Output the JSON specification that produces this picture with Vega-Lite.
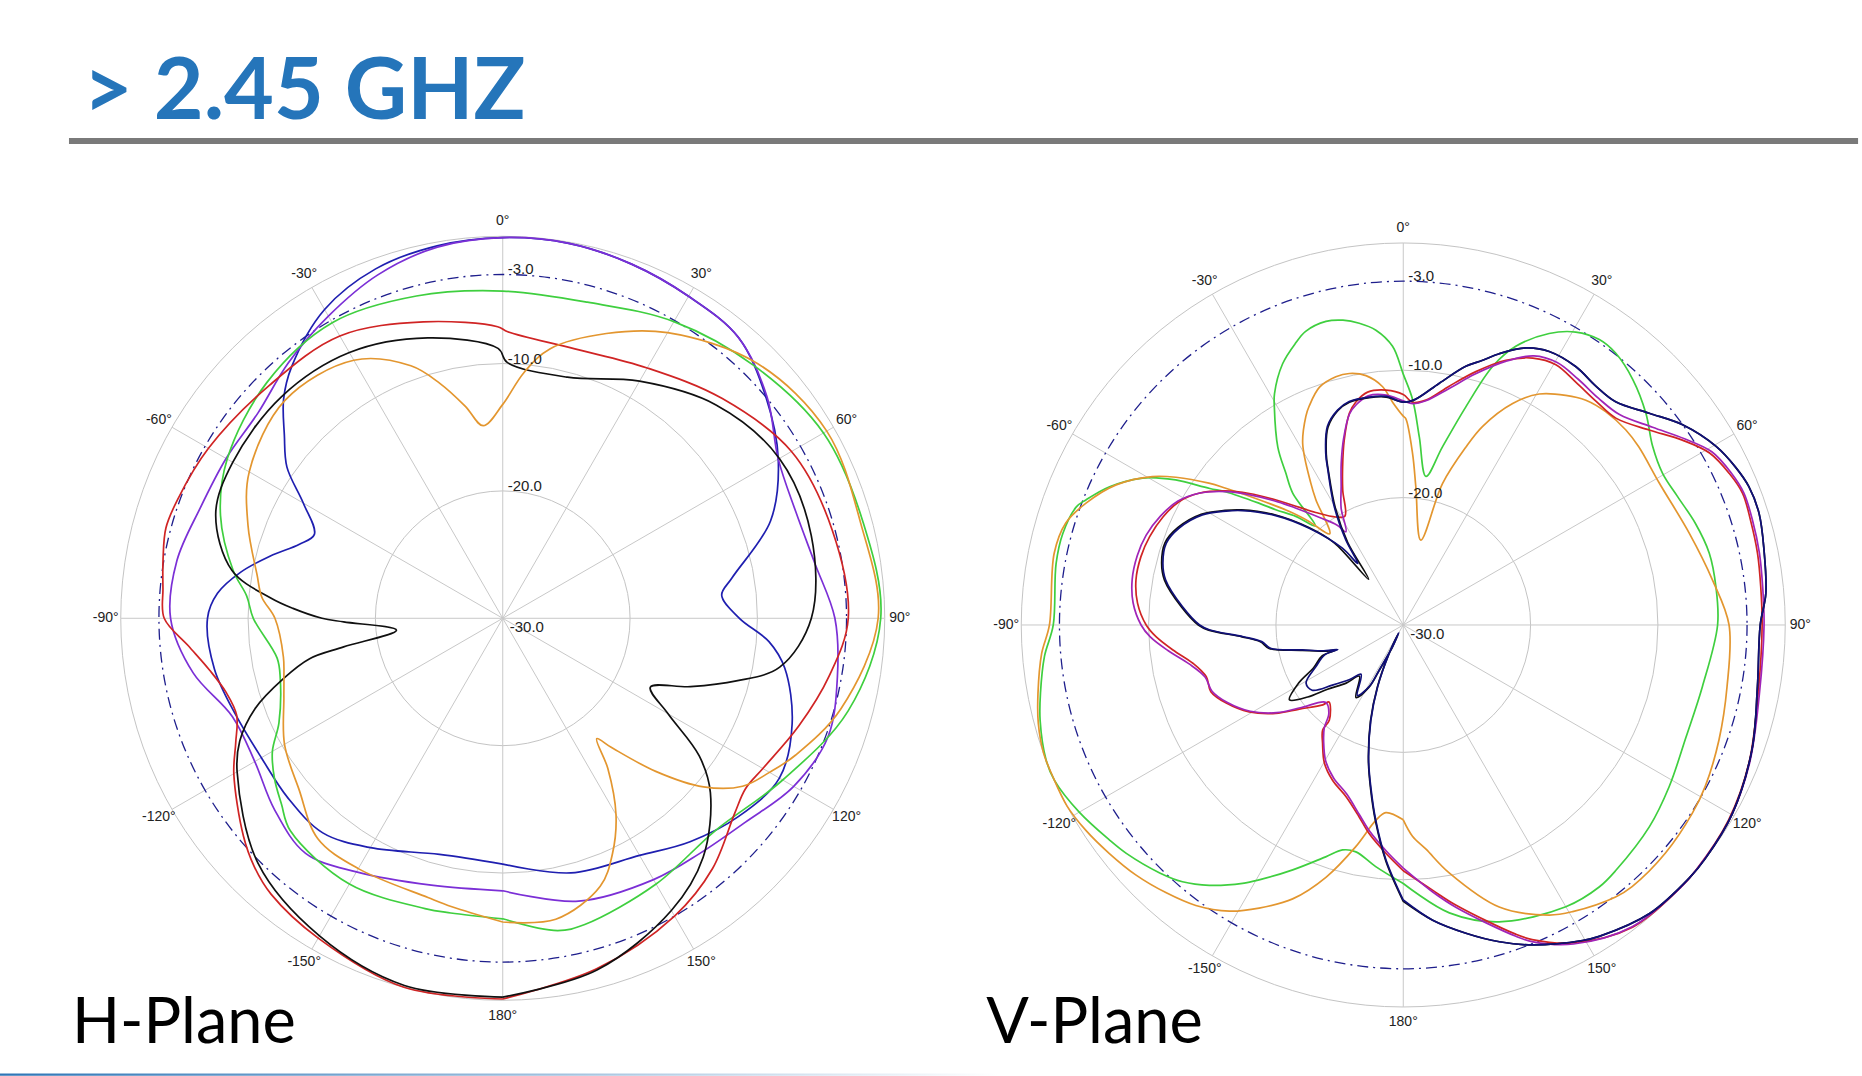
{
"$schema": "https://vega.github.io/schema/vega-lite/v6.json",
"width": 1862, "height": 1076,
"autosize": {"type": "fit", "contains": "padding"},
"padding": 0,
"background": "#ffffff",
"config": {"view": {"stroke": null}},
"datasets": {
"centers": [{"plane": "H"}, {"plane": "V"}],
"spokes": [
{"plane":"H","angle":0},{"plane":"H","angle":30},{"plane":"H","angle":60},{"plane":"H","angle":90},{"plane":"H","angle":120},{"plane":"H","angle":150},
{"plane":"V","angle":0},{"plane":"V","angle":30},{"plane":"V","angle":60},{"plane":"V","angle":90},{"plane":"V","angle":120},{"plane":"V","angle":150}
],
"ticks": [
{"plane":"H","angle":0,"label":"0°"},{"plane":"H","angle":30,"label":"30°"},{"plane":"H","angle":60,"label":"60°"},{"plane":"H","angle":90,"label":"90°"},{"plane":"H","angle":120,"label":"120°"},{"plane":"H","angle":150,"label":"150°"},{"plane":"H","angle":180,"label":"180°"},{"plane":"H","angle":-30,"label":"-30°"},{"plane":"H","angle":-60,"label":"-60°"},{"plane":"H","angle":-90,"label":"-90°"},{"plane":"H","angle":-120,"label":"-120°"},{"plane":"H","angle":-150,"label":"-150°"},
{"plane":"V","angle":0,"label":"0°"},{"plane":"V","angle":30,"label":"30°"},{"plane":"V","angle":60,"label":"60°"},{"plane":"V","angle":90,"label":"90°"},{"plane":"V","angle":120,"label":"120°"},{"plane":"V","angle":150,"label":"150°"},{"plane":"V","angle":180,"label":"180°"},{"plane":"V","angle":-30,"label":"-30°"},{"plane":"V","angle":-60,"label":"-60°"},{"plane":"V","angle":-90,"label":"-90°"},{"plane":"V","angle":-120,"label":"-120°"},{"plane":"V","angle":-150,"label":"-150°"}
],
"levels": [
{"plane":"H","level":-3,"label":"-3.0"},{"plane":"H","level":-10,"label":"-10.0"},{"plane":"H","level":-20,"label":"-20.0"},{"plane":"H","level":-30,"label":"-30.0"},
{"plane":"V","level":-3,"label":"-3.0"},{"plane":"V","level":-10,"label":"-10.0"},{"plane":"V","level":-20,"label":"-20.0"},{"plane":"V","level":-30,"label":"-30.0"}
],
"pattern": [
{"plane":"H","trace":"blue","angle":-180,"dB":-10.7},{"plane":"H","trace":"blue","angle":-165,"dB":-10.8},{"plane":"H","trace":"blue","angle":-150,"dB":-9.2},{"plane":"H","trace":"blue","angle":-140,"dB":-8.0},{"plane":"H","trace":"blue","angle":-130,"dB":-8.0},{"plane":"H","trace":"blue","angle":-120,"dB":-8.1},{"plane":"H","trace":"blue","angle":-110,"dB":-7.7},{"plane":"H","trace":"blue","angle":-100,"dB":-7.0},{"plane":"H","trace":"blue","angle":-90,"dB":-6.8},{"plane":"H","trace":"blue","angle":-85,"dB":-7.5},{"plane":"H","trace":"blue","angle":-80,"dB":-9.1},{"plane":"H","trace":"blue","angle":-75,"dB":-11.1},{"plane":"H","trace":"blue","angle":-70,"dB":-13.0},{"plane":"H","trace":"blue","angle":-66,"dB":-13.8},{"plane":"H","trace":"blue","angle":-60,"dB":-11.9},{"plane":"H","trace":"blue","angle":-55,"dB":-9.3},{"plane":"H","trace":"blue","angle":-50,"dB":-7.6},{"plane":"H","trace":"blue","angle":-45,"dB":-5.65},{"plane":"H","trace":"blue","angle":-40,"dB":-4.2},{"plane":"H","trace":"blue","angle":-30,"dB":-2.0},{"plane":"H","trace":"blue","angle":-20,"dB":-0.8},{"plane":"H","trace":"blue","angle":-10,"dB":-0.3},{"plane":"H","trace":"blue","angle":0,"dB":-0.1},{"plane":"H","trace":"blue","angle":10,"dB":-0.1},{"plane":"H","trace":"blue","angle":20,"dB":-0.4},{"plane":"H","trace":"blue","angle":30,"dB":-0.8},{"plane":"H","trace":"blue","angle":40,"dB":-1.2},{"plane":"H","trace":"blue","angle":50,"dB":-3.0},{"plane":"H","trace":"blue","angle":60,"dB":-5.0},{"plane":"H","trace":"blue","angle":70,"dB":-7.6},{"plane":"H","trace":"blue","angle":80,"dB":-11.7},{"plane":"H","trace":"blue","angle":84,"dB":-12.7},{"plane":"H","trace":"blue","angle":90,"dB":-11.4},{"plane":"H","trace":"blue","angle":95,"dB":-9.0},{"plane":"H","trace":"blue","angle":100,"dB":-7.5},{"plane":"H","trace":"blue","angle":110,"dB":-5.8},{"plane":"H","trace":"blue","angle":120,"dB":-4.9},{"plane":"H","trace":"blue","angle":130,"dB":-5.8},{"plane":"H","trace":"blue","angle":140,"dB":-7.1},{"plane":"H","trace":"blue","angle":150,"dB":-8.5},{"plane":"H","trace":"blue","angle":165,"dB":-9.3},{"plane":"H","trace":"blue","angle":180,"dB":-10.7},

{"plane":"H","trace":"purple","angle":-180,"dB":-8.6},{"plane":"H","trace":"purple","angle":-165,"dB":-8.3},{"plane":"H","trace":"purple","angle":-150,"dB":-7.0},{"plane":"H","trace":"purple","angle":-140,"dB":-5.9},{"plane":"H","trace":"purple","angle":-130,"dB":-6.6},{"plane":"H","trace":"purple","angle":-120,"dB":-7.5},{"plane":"H","trace":"purple","angle":-110,"dB":-7.4},{"plane":"H","trace":"purple","angle":-100,"dB":-5.3},{"plane":"H","trace":"purple","angle":-90,"dB":-3.9},{"plane":"H","trace":"purple","angle":-80,"dB":-4.0},{"plane":"H","trace":"purple","angle":-70,"dB":-4.7},{"plane":"H","trace":"purple","angle":-60,"dB":-4.9},{"plane":"H","trace":"purple","angle":-50,"dB":-4.9},{"plane":"H","trace":"purple","angle":-40,"dB":-3.8},{"plane":"H","trace":"purple","angle":-30,"dB":-2.6},{"plane":"H","trace":"purple","angle":-20,"dB":-1.3},{"plane":"H","trace":"purple","angle":-10,"dB":-0.4},{"plane":"H","trace":"purple","angle":0,"dB":-0.1},{"plane":"H","trace":"purple","angle":10,"dB":-0.1},{"plane":"H","trace":"purple","angle":20,"dB":-0.4},{"plane":"H","trace":"purple","angle":30,"dB":-0.8},{"plane":"H","trace":"purple","angle":40,"dB":-1.2},{"plane":"H","trace":"purple","angle":50,"dB":-2.9},{"plane":"H","trace":"purple","angle":60,"dB":-5.0},{"plane":"H","trace":"purple","angle":70,"dB":-5.5},{"plane":"H","trace":"purple","angle":80,"dB":-5.1},{"plane":"H","trace":"purple","angle":90,"dB":-3.9},{"plane":"H","trace":"purple","angle":100,"dB":-3.3},{"plane":"H","trace":"purple","angle":110,"dB":-2.8},{"plane":"H","trace":"purple","angle":120,"dB":-3.6},{"plane":"H","trace":"purple","angle":130,"dB":-5.1},{"plane":"H","trace":"purple","angle":140,"dB":-5.9},{"plane":"H","trace":"purple","angle":150,"dB":-6.3},{"plane":"H","trace":"purple","angle":165,"dB":-7.0},{"plane":"H","trace":"purple","angle":180,"dB":-8.6},

{"plane":"H","trace":"green","angle":-180,"dB":-6.4},{"plane":"H","trace":"green","angle":-170,"dB":-6.5},{"plane":"H","trace":"green","angle":-165,"dB":-6.4},{"plane":"H","trace":"green","angle":-150,"dB":-5.9},{"plane":"H","trace":"green","angle":-135,"dB":-6.4},{"plane":"H","trace":"green","angle":-130,"dB":-7.3},{"plane":"H","trace":"green","angle":-125,"dB":-8.1},{"plane":"H","trace":"green","angle":-120,"dB":-9.1},{"plane":"H","trace":"green","angle":-115,"dB":-10.6},{"plane":"H","trace":"green","angle":-105,"dB":-11.9},{"plane":"H","trace":"green","angle":-100,"dB":-12.0},{"plane":"H","trace":"green","angle":-90,"dB":-10.4},{"plane":"H","trace":"green","angle":-85,"dB":-9.8},{"plane":"H","trace":"green","angle":-80,"dB":-8.5},{"plane":"H","trace":"green","angle":-70,"dB":-6.4},{"plane":"H","trace":"green","angle":-60,"dB":-5.0},{"plane":"H","trace":"green","angle":-45,"dB":-3.8},{"plane":"H","trace":"green","angle":-30,"dB":-3.2},{"plane":"H","trace":"green","angle":-15,"dB":-3.8},{"plane":"H","trace":"green","angle":0,"dB":-4.3},{"plane":"H","trace":"green","angle":15,"dB":-4.3},{"plane":"H","trace":"green","angle":30,"dB":-3.1},{"plane":"H","trace":"green","angle":45,"dB":-2.0},{"plane":"H","trace":"green","angle":60,"dB":-0.9},{"plane":"H","trace":"green","angle":75,"dB":-0.7},{"plane":"H","trace":"green","angle":90,"dB":-0.3},{"plane":"H","trace":"green","angle":105,"dB":-1.9},{"plane":"H","trace":"green","angle":120,"dB":-4.6},{"plane":"H","trace":"green","angle":135,"dB":-6.4},{"plane":"H","trace":"green","angle":150,"dB":-5.9},{"plane":"H","trace":"green","angle":165,"dB":-5.1},{"plane":"H","trace":"green","angle":170,"dB":-5.1},{"plane":"H","trace":"green","angle":180,"dB":-6.4},

{"plane":"H","trace":"red","angle":-180,"dB":-0.1},{"plane":"H","trace":"red","angle":-165,"dB":0.0},{"plane":"H","trace":"red","angle":-150,"dB":-1.0},{"plane":"H","trace":"red","angle":-140,"dB":-1.7},{"plane":"H","trace":"red","angle":-135,"dB":-2.4},{"plane":"H","trace":"red","angle":-130,"dB":-3.4},{"plane":"H","trace":"red","angle":-120,"dB":-5.6},{"plane":"H","trace":"red","angle":-115,"dB":-6.85},{"plane":"H","trace":"red","angle":-110,"dB":-7.75},{"plane":"H","trace":"red","angle":-105,"dB":-7.5},{"plane":"H","trace":"red","angle":-100,"dB":-6.6},{"plane":"H","trace":"red","angle":-95,"dB":-5.2},{"plane":"H","trace":"red","angle":-90,"dB":-3.4},{"plane":"H","trace":"red","angle":-85,"dB":-3.2},{"plane":"H","trace":"red","angle":-80,"dB":-2.9},{"plane":"H","trace":"red","angle":-75,"dB":-2.6},{"plane":"H","trace":"red","angle":-70,"dB":-2.8},{"plane":"H","trace":"red","angle":-60,"dB":-3.3},{"plane":"H","trace":"red","angle":-45,"dB":-4.1},{"plane":"H","trace":"red","angle":-30,"dB":-4.4},{"plane":"H","trace":"red","angle":-15,"dB":-5.9},{"plane":"H","trace":"red","angle":-1,"dB":-7.1},{"plane":"H","trace":"red","angle":1,"dB":-7.5},{"plane":"H","trace":"red","angle":15,"dB":-8.1},{"plane":"H","trace":"red","angle":30,"dB":-7.3},{"plane":"H","trace":"red","angle":45,"dB":-5.6},{"plane":"H","trace":"red","angle":60,"dB":-3.8},{"plane":"H","trace":"red","angle":75,"dB":-3.2},{"plane":"H","trace":"red","angle":90,"dB":-2.85},{"plane":"H","trace":"red","angle":100,"dB":-3.95},{"plane":"H","trace":"red","angle":110,"dB":-5.25},{"plane":"H","trace":"red","angle":120,"dB":-6.4},{"plane":"H","trace":"red","angle":125,"dB":-6.7},{"plane":"H","trace":"red","angle":130,"dB":-6.2},{"plane":"H","trace":"red","angle":140,"dB":-4.35},{"plane":"H","trace":"red","angle":150,"dB":-3.0},{"plane":"H","trace":"red","angle":165,"dB":-1.5},{"plane":"H","trace":"red","angle":180,"dB":-0.1},

{"plane":"H","trace":"black","angle":-180,"dB":-0.25},{"plane":"H","trace":"black","angle":-165,"dB":-0.15},{"plane":"H","trace":"black","angle":-150,"dB":-1.2},{"plane":"H","trace":"black","angle":-135,"dB":-2.8},{"plane":"H","trace":"black","angle":-120,"dB":-5.9},{"plane":"H","trace":"black","angle":-115,"dB":-7.2},{"plane":"H","trace":"black","angle":-110,"dB":-9.3},{"plane":"H","trace":"black","angle":-105.4,"dB":-12.1},{"plane":"H","trace":"black","angle":-101.8,"dB":-14.5},{"plane":"H","trace":"black","angle":-100.2,"dB":-17.3},{"plane":"H","trace":"black","angle":-96.4,"dB":-21.6},{"plane":"H","trace":"black","angle":-91.3,"dB":-17.5},{"plane":"H","trace":"black","angle":-90,"dB":-15.8},{"plane":"H","trace":"black","angle":-87.3,"dB":-13.5},{"plane":"H","trace":"black","angle":-85,"dB":-11.7},{"plane":"H","trace":"black","angle":-80,"dB":-8.4},{"plane":"H","trace":"black","angle":-70,"dB":-6.0},{"plane":"H","trace":"black","angle":-60,"dB":-5.5},{"plane":"H","trace":"black","angle":-45,"dB":-5.4},{"plane":"H","trace":"black","angle":-30,"dB":-5.9},{"plane":"H","trace":"black","angle":-15,"dB":-7.2},{"plane":"H","trace":"black","angle":-1,"dB":-8.8},{"plane":"H","trace":"black","angle":1,"dB":-9.9},{"plane":"H","trace":"black","angle":15,"dB":-10.4},{"plane":"H","trace":"black","angle":30,"dB":-8.5},{"plane":"H","trace":"black","angle":45,"dB":-6.3},{"plane":"H","trace":"black","angle":60,"dB":-4.9},{"plane":"H","trace":"black","angle":75,"dB":-4.9},{"plane":"H","trace":"black","angle":90,"dB":-5.75},{"plane":"H","trace":"black","angle":100,"dB":-7.9},{"plane":"H","trace":"black","angle":105,"dB":-11.0},{"plane":"H","trace":"black","angle":110,"dB":-14.3},{"plane":"H","trace":"black","angle":115,"dB":-17.2},{"plane":"H","trace":"black","angle":120,"dB":-15.0},{"plane":"H","trace":"black","angle":125,"dB":-11.15},{"plane":"H","trace":"black","angle":130,"dB":-8.7},{"plane":"H","trace":"black","angle":140,"dB":-5.5},{"plane":"H","trace":"black","angle":150,"dB":-3.5},{"plane":"H","trace":"black","angle":165,"dB":-1.4},{"plane":"H","trace":"black","angle":180,"dB":-0.25},

{"plane":"H","trace":"orange","angle":-180,"dB":-6.15},{"plane":"H","trace":"orange","angle":-170,"dB":-7.0},{"plane":"H","trace":"orange","angle":-165,"dB":-7.3},{"plane":"H","trace":"orange","angle":-150,"dB":-7.3},{"plane":"H","trace":"orange","angle":-140,"dB":-7.4},{"plane":"H","trace":"orange","angle":-130,"dB":-9.1},{"plane":"H","trace":"orange","angle":-120,"dB":-10.2},{"plane":"H","trace":"orange","angle":-110,"dB":-11.7},{"plane":"H","trace":"orange","angle":-105,"dB":-12.2},{"plane":"H","trace":"orange","angle":-100,"dB":-12.5},{"plane":"H","trace":"orange","angle":-90,"dB":-12.1},{"plane":"H","trace":"orange","angle":-85,"dB":-11.0},{"plane":"H","trace":"orange","angle":-80,"dB":-10.4},{"plane":"H","trace":"orange","angle":-70,"dB":-8.7},{"plane":"H","trace":"orange","angle":-60,"dB":-7.0},{"plane":"H","trace":"orange","angle":-45,"dB":-5.8},{"plane":"H","trace":"orange","angle":-30,"dB":-6.6},{"plane":"H","trace":"orange","angle":-20,"dB":-8.9},{"plane":"H","trace":"orange","angle":-15,"dB":-10.9},{"plane":"H","trace":"orange","angle":-10,"dB":-13.1},{"plane":"H","trace":"orange","angle":-5.8,"dB":-14.8},{"plane":"H","trace":"orange","angle":0,"dB":-13.2},{"plane":"H","trace":"orange","angle":5,"dB":-10.6},{"plane":"H","trace":"orange","angle":10,"dB":-8.5},{"plane":"H","trace":"orange","angle":20,"dB":-6.2},{"plane":"H","trace":"orange","angle":30,"dB":-4.1},{"plane":"H","trace":"orange","angle":45,"dB":-1.7},{"plane":"H","trace":"orange","angle":60,"dB":-0.6},{"plane":"H","trace":"orange","angle":75,"dB":-0.9},{"plane":"H","trace":"orange","angle":90,"dB":-0.5},{"plane":"H","trace":"orange","angle":105,"dB":-2.5},{"plane":"H","trace":"orange","angle":115,"dB":-4.6},{"plane":"H","trace":"orange","angle":120,"dB":-5.8},{"plane":"H","trace":"orange","angle":125,"dB":-7.0},{"plane":"H","trace":"orange","angle":130,"dB":-9.4},{"plane":"H","trace":"orange","angle":135,"dB":-13.0},{"plane":"H","trace":"orange","angle":140,"dB":-16.8},{"plane":"H","trace":"orange","angle":142,"dB":-18.0},{"plane":"H","trace":"orange","angle":145,"dB":-15.6},{"plane":"H","trace":"orange","angle":150,"dB":-12.2},{"plane":"H","trace":"orange","angle":155,"dB":-9.6},{"plane":"H","trace":"orange","angle":160,"dB":-7.6},{"plane":"H","trace":"orange","angle":170,"dB":-6.0},{"plane":"H","trace":"orange","angle":180,"dB":-6.15},

{"plane":"V","trace":"green","angle":-180,"dB":-9.7},{"plane":"V","trace":"green","angle":-173.5,"dB":-10.9},{"plane":"V","trace":"green","angle":-168.2,"dB":-11.8},{"plane":"V","trace":"green","angle":-164.9,"dB":-11.7},{"plane":"V","trace":"green","angle":-161.5,"dB":-10.8},{"plane":"V","trace":"green","angle":-155.7,"dB":-8.9},{"plane":"V","trace":"green","angle":-150.5,"dB":-7.0},{"plane":"V","trace":"green","angle":-148.1,"dB":-6.1},{"plane":"V","trace":"green","angle":-143.3,"dB":-4.5},{"plane":"V","trace":"green","angle":-139.3,"dB":-3.4},{"plane":"V","trace":"green","angle":-135.5,"dB":-2.7},{"plane":"V","trace":"green","angle":-129.5,"dB":-1.8},{"plane":"V","trace":"green","angle":-126.2,"dB":-1.4},{"plane":"V","trace":"green","angle":-120,"dB":-0.6},{"plane":"V","trace":"green","angle":-114,"dB":0.0},{"plane":"V","trace":"green","angle":-110.7,"dB":0.0},{"plane":"V","trace":"green","angle":-104.7,"dB":-0.5},{"plane":"V","trace":"green","angle":-100.6,"dB":-1.0},{"plane":"V","trace":"green","angle":-95,"dB":-1.7},{"plane":"V","trace":"green","angle":-90,"dB":-2.5},{"plane":"V","trace":"green","angle":-80,"dB":-2.3},{"plane":"V","trace":"green","angle":-75,"dB":-2.3},{"plane":"V","trace":"green","angle":-70.1,"dB":-2.7},{"plane":"V","trace":"green","angle":-68.5,"dB":-3.2},{"plane":"V","trace":"green","angle":-64.8,"dB":-4.5},{"plane":"V","trace":"green","angle":-60.6,"dB":-6.5},{"plane":"V","trace":"green","angle":-59,"dB":-7.6},{"plane":"V","trace":"green","angle":-57.5,"dB":-8.8},{"plane":"V","trace":"green","angle":-54.8,"dB":-11.4},{"plane":"V","trace":"green","angle":-53.1,"dB":-12.6},{"plane":"V","trace":"green","angle":-49.8,"dB":-15.2},{"plane":"V","trace":"green","angle":-47.9,"dB":-16.5},{"plane":"V","trace":"green","angle":-44.7,"dB":-18.0},{"plane":"V","trace":"green","angle":-41.6,"dB":-19.6},{"plane":"V","trace":"green","angle":-40,"dB":-16.5},{"plane":"V","trace":"green","angle":-37.7,"dB":-14.9},{"plane":"V","trace":"green","angle":-35.2,"dB":-12.9},{"plane":"V","trace":"green","angle":-30.6,"dB":-10.1},{"plane":"V","trace":"green","angle":-29.1,"dB":-9.2},{"plane":"V","trace":"green","angle":-24.8,"dB":-7.4},{"plane":"V","trace":"green","angle":-20.9,"dB":-6.3},{"plane":"V","trace":"green","angle":-18.4,"dB":-5.7},{"plane":"V","trace":"green","angle":-14.3,"dB":-5.4},{"plane":"V","trace":"green","angle":-11.2,"dB":-5.6},{"plane":"V","trace":"green","angle":-8.3,"dB":-6.05},{"plane":"V","trace":"green","angle":-5.3,"dB":-6.75},{"plane":"V","trace":"green","angle":-2.2,"dB":-8.1},{"plane":"V","trace":"green","angle":0,"dB":-10.3},{"plane":"V","trace":"green","angle":2.4,"dB":-12.3},{"plane":"V","trace":"green","angle":4.9,"dB":-15.2},{"plane":"V","trace":"green","angle":8.7,"dB":-18.2},{"plane":"V","trace":"green","angle":12.4,"dB":-15.7},{"plane":"V","trace":"green","angle":16,"dB":-12.2},{"plane":"V","trace":"green","angle":19.1,"dB":-8.5},{"plane":"V","trace":"green","angle":22,"dB":-6.4},{"plane":"V","trace":"green","angle":26.6,"dB":-4.4},{"plane":"V","trace":"green","angle":30.5,"dB":-3.3},{"plane":"V","trace":"green","angle":34.5,"dB":-2.8},{"plane":"V","trace":"green","angle":38,"dB":-2.9},{"plane":"V","trace":"green","angle":43.1,"dB":-3.6},{"plane":"V","trace":"green","angle":48.9,"dB":-4.7},{"plane":"V","trace":"green","angle":54.4,"dB":-5.9},{"plane":"V","trace":"green","angle":59.7,"dB":-6.4},{"plane":"V","trace":"green","angle":65,"dB":-6.2},{"plane":"V","trace":"green","angle":70.8,"dB":-5.7},{"plane":"V","trace":"green","angle":76.8,"dB":-5.3},{"plane":"V","trace":"green","angle":83,"dB":-5.25},{"plane":"V","trace":"green","angle":90,"dB":-5.3},{"plane":"V","trace":"green","angle":101.6,"dB":-6.0},{"plane":"V","trace":"green","angle":111.6,"dB":-6.1},{"plane":"V","trace":"green","angle":121.3,"dB":-5.55},{"plane":"V","trace":"green","angle":129.3,"dB":-5.0},{"plane":"V","trace":"green","angle":139,"dB":-4.5},{"plane":"V","trace":"green","angle":143.2,"dB":-4.3},{"plane":"V","trace":"green","angle":150,"dB":-4.45},{"plane":"V","trace":"green","angle":162.1,"dB":-5.5},{"plane":"V","trace":"green","angle":170.9,"dB":-7.1},{"plane":"V","trace":"green","angle":180,"dB":-9.7},

{"plane":"V","trace":"orange","angle":-180,"dB":-14.7},{"plane":"V","trace":"orange","angle":-174.7,"dB":-15.2},{"plane":"V","trace":"orange","angle":-172,"dB":-14.5},{"plane":"V","trace":"orange","angle":-167.9,"dB":-12.2},{"plane":"V","trace":"orange","angle":-163,"dB":-9.3},{"plane":"V","trace":"orange","angle":-158,"dB":-6.8},{"plane":"V","trace":"orange","angle":-153,"dB":-5.05},{"plane":"V","trace":"orange","angle":-148.7,"dB":-3.7},{"plane":"V","trace":"orange","angle":-143.5,"dB":-2.6},{"plane":"V","trace":"orange","angle":-138.4,"dB":-1.9},{"plane":"V","trace":"orange","angle":-133.1,"dB":-1.25},{"plane":"V","trace":"orange","angle":-127.8,"dB":-0.75},{"plane":"V","trace":"orange","angle":-122.9,"dB":-0.3},{"plane":"V","trace":"orange","angle":-118.3,"dB":0.0},{"plane":"V","trace":"orange","angle":-113.2,"dB":0.0},{"plane":"V","trace":"orange","angle":-109.6,"dB":0.0},{"plane":"V","trace":"orange","angle":-105.1,"dB":-0.3},{"plane":"V","trace":"orange","angle":-100.6,"dB":-0.8},{"plane":"V","trace":"orange","angle":-94.5,"dB":-1.5},{"plane":"V","trace":"orange","angle":-90,"dB":-2.2},{"plane":"V","trace":"orange","angle":-78.4,"dB":-2.0},{"plane":"V","trace":"orange","angle":-73.2,"dB":-2.3},{"plane":"V","trace":"orange","angle":-69,"dB":-3.3},{"plane":"V","trace":"orange","angle":-64,"dB":-4.9},{"plane":"V","trace":"orange","angle":-59.4,"dB":-7.1},{"plane":"V","trace":"orange","angle":-57,"dB":-8.7},{"plane":"V","trace":"orange","angle":-53.9,"dB":-11.1},{"plane":"V","trace":"orange","angle":-52.4,"dB":-12.4},{"plane":"V","trace":"orange","angle":-49,"dB":-15.0},{"plane":"V","trace":"orange","angle":-44.7,"dB":-17.6},{"plane":"V","trace":"orange","angle":-42.3,"dB":-19.0},{"plane":"V","trace":"orange","angle":-38.9,"dB":-20.8},{"plane":"V","trace":"orange","angle":-34.9,"dB":-18.0},{"plane":"V","trace":"orange","angle":-33.1,"dB":-16.7},{"plane":"V","trace":"orange","angle":-29,"dB":-13.7},{"plane":"V","trace":"orange","angle":-25,"dB":-11.9},{"plane":"V","trace":"orange","angle":-23.3,"dB":-11.3},{"plane":"V","trace":"orange","angle":-19.4,"dB":-10.2},{"plane":"V","trace":"orange","angle":-15.2,"dB":-9.8},{"plane":"V","trace":"orange","angle":-12.1,"dB":-9.8},{"plane":"V","trace":"orange","angle":-8.5,"dB":-10.2},{"plane":"V","trace":"orange","angle":-5,"dB":-11.2},{"plane":"V","trace":"orange","angle":-2.7,"dB":-12.5},{"plane":"V","trace":"orange","angle":0,"dB":-13.6},{"plane":"V","trace":"orange","angle":0.7,"dB":-13.8},{"plane":"V","trace":"orange","angle":3.1,"dB":-16.5},{"plane":"V","trace":"orange","angle":5.2,"dB":-19.1},{"plane":"V","trace":"orange","angle":11.7,"dB":-23.2},{"plane":"V","trace":"orange","angle":15.5,"dB":-18.5},{"plane":"V","trace":"orange","angle":19.4,"dB":-15.2},{"plane":"V","trace":"orange","angle":21.8,"dB":-13.2},{"plane":"V","trace":"orange","angle":26.3,"dB":-10.6},{"plane":"V","trace":"orange","angle":30.5,"dB":-8.95},{"plane":"V","trace":"orange","angle":35.3,"dB":-7.9},{"plane":"V","trace":"orange","angle":39.1,"dB":-7.25},{"plane":"V","trace":"orange","angle":43.5,"dB":-6.9},{"plane":"V","trace":"orange","angle":48.8,"dB":-6.75},{"plane":"V","trace":"orange","angle":52.9,"dB":-6.8},{"plane":"V","trace":"orange","angle":61,"dB":-7.0},{"plane":"V","trace":"orange","angle":72.2,"dB":-6.4},{"plane":"V","trace":"orange","angle":81.7,"dB":-5.45},{"plane":"V","trace":"orange","angle":90,"dB":-4.4},{"plane":"V","trace":"orange","angle":100.8,"dB":-4.1},{"plane":"V","trace":"orange","angle":110,"dB":-3.6},{"plane":"V","trace":"orange","angle":118.1,"dB":-3.1},{"plane":"V","trace":"orange","angle":123,"dB":-2.9},{"plane":"V","trace":"orange","angle":131,"dB":-2.7},{"plane":"V","trace":"orange","angle":138.8,"dB":-2.7},{"plane":"V","trace":"orange","angle":142,"dB":-2.9},{"plane":"V","trace":"orange","angle":149.4,"dB":-3.85},{"plane":"V","trace":"orange","angle":153.3,"dB":-4.5},{"plane":"V","trace":"orange","angle":161.2,"dB":-6.6},{"plane":"V","trace":"orange","angle":169.5,"dB":-10.2},{"plane":"V","trace":"orange","angle":174.2,"dB":-12.3},{"plane":"V","trace":"orange","angle":177.5,"dB":-13.4},{"plane":"V","trace":"orange","angle":180,"dB":-14.7},

{"plane":"V","trace":"red","angle":-180,"dB":-10.7},{"plane":"V","trace":"red","angle":-175.7,"dB":-12.0},{"plane":"V","trace":"red","angle":-170.7,"dB":-13.4},{"plane":"V","trace":"red","angle":-167,"dB":-14.55},{"plane":"V","trace":"red","angle":-161.5,"dB":-15.8},{"plane":"V","trace":"red","angle":-155.5,"dB":-16.6},{"plane":"V","trace":"red","angle":-150.3,"dB":-17.5},{"plane":"V","trace":"red","angle":-145.7,"dB":-18.75},{"plane":"V","trace":"red","angle":-142.5,"dB":-19.6},{"plane":"V","trace":"red","angle":-142.1,"dB":-20.55},{"plane":"V","trace":"red","angle":-136,"dB":-21.6},{"plane":"V","trace":"red","angle":-134.8,"dB":-21.1},{"plane":"V","trace":"red","angle":-129,"dB":-19.5},{"plane":"V","trace":"red","angle":-124.7,"dB":-17.8},{"plane":"V","trace":"red","angle":-119.4,"dB":-16.1},{"plane":"V","trace":"red","angle":-113.8,"dB":-14.8},{"plane":"V","trace":"red","angle":-109.1,"dB":-14.0},{"plane":"V","trace":"red","angle":-104.7,"dB":-14.0},{"plane":"V","trace":"red","angle":-100.3,"dB":-13.2},{"plane":"V","trace":"red","angle":-96.2,"dB":-11.8},{"plane":"V","trace":"red","angle":-92.7,"dB":-10.55},{"plane":"V","trace":"red","angle":-90,"dB":-9.8},{"plane":"V","trace":"red","angle":-85.3,"dB":-9.05},{"plane":"V","trace":"red","angle":-80.4,"dB":-8.7},{"plane":"V","trace":"red","angle":-75.4,"dB":-8.7},{"plane":"V","trace":"red","angle":-70.8,"dB":-8.9},{"plane":"V","trace":"red","angle":-65.8,"dB":-9.3},{"plane":"V","trace":"red","angle":-61.2,"dB":-9.9},{"plane":"V","trace":"red","angle":-57.2,"dB":-10.9},{"plane":"V","trace":"red","angle":-53,"dB":-12.5},{"plane":"V","trace":"red","angle":-49.5,"dB":-14.1},{"plane":"V","trace":"red","angle":-45.5,"dB":-16.0},{"plane":"V","trace":"red","angle":-42.7,"dB":-17.2},{"plane":"V","trace":"red","angle":-37.9,"dB":-18.8},{"plane":"V","trace":"red","angle":-32,"dB":-20.0},{"plane":"V","trace":"red","angle":-28.2,"dB":-20.3},{"plane":"V","trace":"red","angle":-24.2,"dB":-18.4},{"plane":"V","trace":"red","angle":-21,"dB":-16.7},{"plane":"V","trace":"red","angle":-17.7,"dB":-14.75},{"plane":"V","trace":"red","angle":-14.3,"dB":-12.85},{"plane":"V","trace":"red","angle":-12,"dB":-12.1},{"plane":"V","trace":"red","angle":-8.7,"dB":-11.5},{"plane":"V","trace":"red","angle":-4.2,"dB":-11.5},{"plane":"V","trace":"red","angle":0,"dB":-11.9},{"plane":"V","trace":"red","angle":2.4,"dB":-12.5},{"plane":"V","trace":"red","angle":5.75,"dB":-12.25},{"plane":"V","trace":"red","angle":10.9,"dB":-10.9},{"plane":"V","trace":"red","angle":16,"dB":-9.3},{"plane":"V","trace":"red","angle":21.2,"dB":-7.7},{"plane":"V","trace":"red","angle":25.9,"dB":-6.7},{"plane":"V","trace":"red","angle":30.4,"dB":-6.3},{"plane":"V","trace":"red","angle":35.4,"dB":-6.6},{"plane":"V","trace":"red","angle":40.8,"dB":-6.8},{"plane":"V","trace":"red","angle":45.8,"dB":-6.7},{"plane":"V","trace":"red","angle":51.6,"dB":-5.35},{"plane":"V","trace":"red","angle":56.5,"dB":-3.7},{"plane":"V","trace":"red","angle":60.7,"dB":-2.4},{"plane":"V","trace":"red","angle":65.1,"dB":-1.75},{"plane":"V","trace":"red","angle":68.8,"dB":-1.4},{"plane":"V","trace":"red","angle":73.2,"dB":-1.5},{"plane":"V","trace":"red","angle":78.6,"dB":-1.6},{"plane":"V","trace":"red","angle":83.9,"dB":-1.75},{"plane":"V","trace":"red","angle":90,"dB":-1.8},{"plane":"V","trace":"red","angle":100.9,"dB":-1.6},{"plane":"V","trace":"red","angle":111.8,"dB":-0.75},{"plane":"V","trace":"red","angle":120.9,"dB":-0.2},{"plane":"V","trace":"red","angle":130,"dB":0.0},{"plane":"V","trace":"red","angle":133.5,"dB":0.0},{"plane":"V","trace":"red","angle":142.8,"dB":-0.2},{"plane":"V","trace":"red","angle":151.9,"dB":-1.7},{"plane":"V","trace":"red","angle":157.7,"dB":-3.3},{"plane":"V","trace":"red","angle":160.1,"dB":-4.2},{"plane":"V","trace":"red","angle":169.3,"dB":-7.6},{"plane":"V","trace":"red","angle":173.7,"dB":-9.05},{"plane":"V","trace":"red","angle":180,"dB":-10.7},

{"plane":"V","trace":"magenta","angle":-180,"dB":-10.9},{"plane":"V","trace":"magenta","angle":-175.7,"dB":-12.2},{"plane":"V","trace":"magenta","angle":-170.7,"dB":-13.6},{"plane":"V","trace":"magenta","angle":-167,"dB":-14.7},{"plane":"V","trace":"magenta","angle":-161.5,"dB":-16.0},{"plane":"V","trace":"magenta","angle":-155.5,"dB":-16.8},{"plane":"V","trace":"magenta","angle":-150.3,"dB":-17.7},{"plane":"V","trace":"magenta","angle":-145.7,"dB":-18.9},{"plane":"V","trace":"magenta","angle":-142.5,"dB":-19.8},{"plane":"V","trace":"magenta","angle":-140,"dB":-20.9},{"plane":"V","trace":"magenta","angle":-135,"dB":-21.4},{"plane":"V","trace":"magenta","angle":-129,"dB":-19.7},{"plane":"V","trace":"magenta","angle":-124.7,"dB":-17.9},{"plane":"V","trace":"magenta","angle":-119.4,"dB":-16.2},{"plane":"V","trace":"magenta","angle":-113.8,"dB":-14.9},{"plane":"V","trace":"magenta","angle":-109.1,"dB":-14.1},{"plane":"V","trace":"magenta","angle":-104.7,"dB":-13.9},{"plane":"V","trace":"magenta","angle":-100.3,"dB":-12.9},{"plane":"V","trace":"magenta","angle":-96.2,"dB":-11.4},{"plane":"V","trace":"magenta","angle":-92.7,"dB":-10.1},{"plane":"V","trace":"magenta","angle":-90,"dB":-9.4},{"plane":"V","trace":"magenta","angle":-85.3,"dB":-8.7},{"plane":"V","trace":"magenta","angle":-80.4,"dB":-8.4},{"plane":"V","trace":"magenta","angle":-75.4,"dB":-8.4},{"plane":"V","trace":"magenta","angle":-70.8,"dB":-8.6},{"plane":"V","trace":"magenta","angle":-65.8,"dB":-9.1},{"plane":"V","trace":"magenta","angle":-61.2,"dB":-9.8},{"plane":"V","trace":"magenta","angle":-57.2,"dB":-10.9},{"plane":"V","trace":"magenta","angle":-53,"dB":-12.6},{"plane":"V","trace":"magenta","angle":-49.5,"dB":-14.3},{"plane":"V","trace":"magenta","angle":-45.5,"dB":-16.2},{"plane":"V","trace":"magenta","angle":-42.7,"dB":-17.5},{"plane":"V","trace":"magenta","angle":-37.9,"dB":-19.3},{"plane":"V","trace":"magenta","angle":-33.5,"dB":-20.6},{"plane":"V","trace":"magenta","angle":-31.6,"dB":-21.4},{"plane":"V","trace":"magenta","angle":-28,"dB":-19.6},{"plane":"V","trace":"magenta","angle":-24.2,"dB":-18.1},{"plane":"V","trace":"magenta","angle":-21,"dB":-16.4},{"plane":"V","trace":"magenta","angle":-17.7,"dB":-14.6},{"plane":"V","trace":"magenta","angle":-14.3,"dB":-12.9},{"plane":"V","trace":"magenta","angle":-12,"dB":-12.3},{"plane":"V","trace":"magenta","angle":-8.7,"dB":-11.8},{"plane":"V","trace":"magenta","angle":-4.2,"dB":-11.9},{"plane":"V","trace":"magenta","angle":0,"dB":-12.4},{"plane":"V","trace":"magenta","angle":2.4,"dB":-12.6},{"plane":"V","trace":"magenta","angle":5.75,"dB":-12.3},{"plane":"V","trace":"magenta","angle":10.9,"dB":-11.1},{"plane":"V","trace":"magenta","angle":16,"dB":-9.5},{"plane":"V","trace":"magenta","angle":21.2,"dB":-7.8},{"plane":"V","trace":"magenta","angle":25.9,"dB":-6.5},{"plane":"V","trace":"magenta","angle":30.4,"dB":-6.1},{"plane":"V","trace":"magenta","angle":35.4,"dB":-6.3},{"plane":"V","trace":"magenta","angle":40.8,"dB":-6.5},{"plane":"V","trace":"magenta","angle":45.8,"dB":-6.3},{"plane":"V","trace":"magenta","angle":51.6,"dB":-5.0},{"plane":"V","trace":"magenta","angle":56.5,"dB":-3.5},{"plane":"V","trace":"magenta","angle":60.7,"dB":-2.2},{"plane":"V","trace":"magenta","angle":65.1,"dB":-1.6},{"plane":"V","trace":"magenta","angle":68.8,"dB":-1.3},{"plane":"V","trace":"magenta","angle":73.2,"dB":-1.35},{"plane":"V","trace":"magenta","angle":78.6,"dB":-1.45},{"plane":"V","trace":"magenta","angle":83.9,"dB":-1.6},{"plane":"V","trace":"magenta","angle":90,"dB":-1.65},{"plane":"V","trace":"magenta","angle":100.9,"dB":-1.5},{"plane":"V","trace":"magenta","angle":111.8,"dB":-0.7},{"plane":"V","trace":"magenta","angle":120.9,"dB":-0.15},{"plane":"V","trace":"magenta","angle":130,"dB":0.0},{"plane":"V","trace":"magenta","angle":133.5,"dB":0.0},{"plane":"V","trace":"magenta","angle":142.8,"dB":-0.25},{"plane":"V","trace":"magenta","angle":151.9,"dB":-1.6},{"plane":"V","trace":"magenta","angle":157.7,"dB":-3.1},{"plane":"V","trace":"magenta","angle":160.1,"dB":-4.0},{"plane":"V","trace":"magenta","angle":169.3,"dB":-7.4},{"plane":"V","trace":"magenta","angle":173.7,"dB":-8.9},{"plane":"V","trace":"magenta","angle":180,"dB":-10.9},

{"plane":"V","trace":"black","angle":-180,"dB":-8.3},{"plane":"V","trace":"black","angle":-175.8,"dB":-11.4},{"plane":"V","trace":"black","angle":-172,"dB":-14.4},{"plane":"V","trace":"black","angle":-168.7,"dB":-16.9},{"plane":"V","trace":"black","angle":-165.6,"dB":-19.0},{"plane":"V","trace":"black","angle":-161.2,"dB":-22.0},{"plane":"V","trace":"black","angle":-157.4,"dB":-24.7},{"plane":"V","trace":"black","angle":-153.7,"dB":-27.4},{"plane":"V","trace":"black","angle":-150,"dB":-29.2},{"plane":"V","trace":"black","angle":-153.8,"dB":-28.0},{"plane":"V","trace":"black","angle":-152,"dB":-25.9},{"plane":"V","trace":"black","angle":-151.1,"dB":-24.4},{"plane":"V","trace":"black","angle":-146.9,"dB":-23.2},{"plane":"V","trace":"black","angle":-139.4,"dB":-24.7},{"plane":"V","trace":"black","angle":-135.5,"dB":-23.6},{"plane":"V","trace":"black","angle":-130.3,"dB":-22.2},{"plane":"V","trace":"black","angle":-127,"dB":-20.6},{"plane":"V","trace":"black","angle":-123.3,"dB":-19.3},{"plane":"V","trace":"black","angle":-119,"dB":-20.6},{"plane":"V","trace":"black","angle":-115.5,"dB":-22.2},{"plane":"V","trace":"black","angle":-110.8,"dB":-23.2},{"plane":"V","trace":"black","angle":-110.5,"dB":-24.3},{"plane":"V","trace":"black","angle":-108.4,"dB":-23.5},{"plane":"V","trace":"black","angle":-103.9,"dB":-21.7},{"plane":"V","trace":"black","angle":-99.9,"dB":-19.3},{"plane":"V","trace":"black","angle":-96.7,"dB":-18.7},{"plane":"V","trace":"black","angle":-94.2,"dB":-17.3},{"plane":"V","trace":"black","angle":-91.5,"dB":-14.7},{"plane":"V","trace":"black","angle":-90,"dB":-13.9},{"plane":"V","trace":"black","angle":-85.3,"dB":-12.5},{"plane":"V","trace":"black","angle":-79.3,"dB":-10.9},{"plane":"V","trace":"black","angle":-75.6,"dB":-10.4},{"plane":"V","trace":"black","angle":-71,"dB":-10.2},{"plane":"V","trace":"black","angle":-66.7,"dB":-10.7},{"plane":"V","trace":"black","angle":-61.3,"dB":-11.9},{"plane":"V","trace":"black","angle":-57.3,"dB":-13.35},{"plane":"V","trace":"black","angle":-54.6,"dB":-14.4},{"plane":"V","trace":"black","angle":-49.4,"dB":-16.7},{"plane":"V","trace":"black","angle":-44.2,"dB":-19.3},{"plane":"V","trace":"black","angle":-40,"dB":-21.6},{"plane":"V","trace":"black","angle":-37.2,"dB":-25.5},{"plane":"V","trace":"black","angle":-34,"dB":-22.2},{"plane":"V","trace":"black","angle":-30.2,"dB":-19.4},{"plane":"V","trace":"black","angle":-26,"dB":-16.6},{"plane":"V","trace":"black","angle":-24.3,"dB":-15.3},{"plane":"V","trace":"black","angle":-20.9,"dB":-13.4},{"plane":"V","trace":"black","angle":-17,"dB":-12.4},{"plane":"V","trace":"black","angle":-13.6,"dB":-12.0},{"plane":"V","trace":"black","angle":-8.5,"dB":-11.95},{"plane":"V","trace":"black","angle":-4.3,"dB":-12.05},{"plane":"V","trace":"black","angle":0,"dB":-12.5},{"plane":"V","trace":"black","angle":2.8,"dB":-12.3},{"plane":"V","trace":"black","angle":8.5,"dB":-10.8},{"plane":"V","trace":"black","angle":13.6,"dB":-9.1},{"plane":"V","trace":"black","angle":16.7,"dB":-8.3},{"plane":"V","trace":"black","angle":19.5,"dB":-7.4},{"plane":"V","trace":"black","angle":23.9,"dB":-6.2},{"plane":"V","trace":"black","angle":28.1,"dB":-5.65},{"plane":"V","trace":"black","angle":33.8,"dB":-5.6},{"plane":"V","trace":"black","angle":38.9,"dB":-5.9},{"plane":"V","trace":"black","angle":43.6,"dB":-5.8},{"plane":"V","trace":"black","angle":49.3,"dB":-4.5},{"plane":"V","trace":"black","angle":54.4,"dB":-3.0},{"plane":"V","trace":"black","angle":60.3,"dB":-1.7},{"plane":"V","trace":"black","angle":64.6,"dB":-1.1},{"plane":"V","trace":"black","angle":68.2,"dB":-0.75},{"plane":"V","trace":"black","angle":72.6,"dB":-0.7},{"plane":"V","trace":"black","angle":78.3,"dB":-1.05},{"plane":"V","trace":"black","angle":85,"dB":-1.4},{"plane":"V","trace":"black","angle":90,"dB":-1.95},{"plane":"V","trace":"black","angle":99.9,"dB":-1.75},{"plane":"V","trace":"black","angle":109.7,"dB":-0.9},{"plane":"V","trace":"black","angle":119.8,"dB":-0.2},{"plane":"V","trace":"black","angle":127.8,"dB":0.0},{"plane":"V","trace":"black","angle":131.4,"dB":0.0},{"plane":"V","trace":"black","angle":139.5,"dB":-0.2},{"plane":"V","trace":"black","angle":147.8,"dB":-1.1},{"plane":"V","trace":"black","angle":150.4,"dB":-1.5},{"plane":"V","trace":"black","angle":158,"dB":-2.9},{"plane":"V","trace":"black","angle":163.1,"dB":-4.0},{"plane":"V","trace":"black","angle":168.5,"dB":-5.3},{"plane":"V","trace":"black","angle":174.3,"dB":-6.7},{"plane":"V","trace":"black","angle":180,"dB":-8.3},

{"plane":"V","trace":"navy","angle":-180,"dB":-8.4},{"plane":"V","trace":"navy","angle":-175.8,"dB":-11.5},{"plane":"V","trace":"navy","angle":-172,"dB":-14.5},{"plane":"V","trace":"navy","angle":-168.7,"dB":-17.0},{"plane":"V","trace":"navy","angle":-165.6,"dB":-19.05},{"plane":"V","trace":"navy","angle":-161.2,"dB":-22.1},{"plane":"V","trace":"navy","angle":-157.4,"dB":-24.8},{"plane":"V","trace":"navy","angle":-153.7,"dB":-27.5},{"plane":"V","trace":"navy","angle":-150,"dB":-29.3},{"plane":"V","trace":"navy","angle":-153.8,"dB":-28.1},{"plane":"V","trace":"navy","angle":-152,"dB":-26.0},{"plane":"V","trace":"navy","angle":-151.1,"dB":-24.5},{"plane":"V","trace":"navy","angle":-146.9,"dB":-23.4},{"plane":"V","trace":"navy","angle":-139.4,"dB":-24.9},{"plane":"V","trace":"navy","angle":-135.5,"dB":-24.0},{"plane":"V","trace":"navy","angle":-130.3,"dB":-22.7},{"plane":"V","trace":"navy","angle":-125.6,"dB":-21.2},{"plane":"V","trace":"navy","angle":-120.9,"dB":-21.1},{"plane":"V","trace":"navy","angle":-115.5,"dB":-22.4},{"plane":"V","trace":"navy","angle":-110.8,"dB":-23.4},{"plane":"V","trace":"navy","angle":-110.5,"dB":-24.5},{"plane":"V","trace":"navy","angle":-108.4,"dB":-23.6},{"plane":"V","trace":"navy","angle":-103.9,"dB":-21.85},{"plane":"V","trace":"navy","angle":-99.9,"dB":-19.4},{"plane":"V","trace":"navy","angle":-96.7,"dB":-18.8},{"plane":"V","trace":"navy","angle":-94.2,"dB":-17.4},{"plane":"V","trace":"navy","angle":-91.5,"dB":-14.8},{"plane":"V","trace":"navy","angle":-90,"dB":-14.0},{"plane":"V","trace":"navy","angle":-85.3,"dB":-12.6},{"plane":"V","trace":"navy","angle":-79.3,"dB":-11.0},{"plane":"V","trace":"navy","angle":-75.6,"dB":-10.5},{"plane":"V","trace":"navy","angle":-71,"dB":-10.3},{"plane":"V","trace":"navy","angle":-66.7,"dB":-10.8},{"plane":"V","trace":"navy","angle":-61.3,"dB":-12.0},{"plane":"V","trace":"navy","angle":-57.3,"dB":-13.45},{"plane":"V","trace":"navy","angle":-54.6,"dB":-14.5},{"plane":"V","trace":"navy","angle":-49.4,"dB":-16.8},{"plane":"V","trace":"navy","angle":-44.2,"dB":-19.4},{"plane":"V","trace":"navy","angle":-38.4,"dB":-22.3},{"plane":"V","trace":"navy","angle":-36.5,"dB":-24.0},{"plane":"V","trace":"navy","angle":-34,"dB":-21.9},{"plane":"V","trace":"navy","angle":-30.2,"dB":-19.2},{"plane":"V","trace":"navy","angle":-26,"dB":-16.5},{"plane":"V","trace":"navy","angle":-24.3,"dB":-15.2},{"plane":"V","trace":"navy","angle":-20.9,"dB":-13.3},{"plane":"V","trace":"navy","angle":-17,"dB":-12.35},{"plane":"V","trace":"navy","angle":-13.6,"dB":-11.95},{"plane":"V","trace":"navy","angle":-8.5,"dB":-11.9},{"plane":"V","trace":"navy","angle":-4.3,"dB":-12.0},{"plane":"V","trace":"navy","angle":0,"dB":-12.5},{"plane":"V","trace":"navy","angle":2.8,"dB":-12.3},{"plane":"V","trace":"navy","angle":8.5,"dB":-10.8},{"plane":"V","trace":"navy","angle":13.6,"dB":-9.1},{"plane":"V","trace":"navy","angle":16.7,"dB":-8.3},{"plane":"V","trace":"navy","angle":19.5,"dB":-7.4},{"plane":"V","trace":"navy","angle":23.9,"dB":-6.2},{"plane":"V","trace":"navy","angle":28.1,"dB":-5.65},{"plane":"V","trace":"navy","angle":33.8,"dB":-5.6},{"plane":"V","trace":"navy","angle":38.9,"dB":-5.9},{"plane":"V","trace":"navy","angle":43.6,"dB":-5.8},{"plane":"V","trace":"navy","angle":49.3,"dB":-4.5},{"plane":"V","trace":"navy","angle":54.4,"dB":-3.0},{"plane":"V","trace":"navy","angle":60.3,"dB":-1.7},{"plane":"V","trace":"navy","angle":64.6,"dB":-1.1},{"plane":"V","trace":"navy","angle":68.2,"dB":-0.75},{"plane":"V","trace":"navy","angle":72.6,"dB":-0.7},{"plane":"V","trace":"navy","angle":78.3,"dB":-1.05},{"plane":"V","trace":"navy","angle":85,"dB":-1.4},{"plane":"V","trace":"navy","angle":90,"dB":-1.95},{"plane":"V","trace":"navy","angle":99.9,"dB":-1.75},{"plane":"V","trace":"navy","angle":109.7,"dB":-0.9},{"plane":"V","trace":"navy","angle":119.8,"dB":-0.2},{"plane":"V","trace":"navy","angle":127.8,"dB":0.0},{"plane":"V","trace":"navy","angle":131.4,"dB":0.0},{"plane":"V","trace":"navy","angle":139.5,"dB":-0.2},{"plane":"V","trace":"navy","angle":147.8,"dB":-1.1},{"plane":"V","trace":"navy","angle":150.4,"dB":-1.5},{"plane":"V","trace":"navy","angle":158,"dB":-2.9},{"plane":"V","trace":"navy","angle":163.1,"dB":-4.0},{"plane":"V","trace":"navy","angle":168.5,"dB":-5.3},{"plane":"V","trace":"navy","angle":174.3,"dB":-6.7},{"plane":"V","trace":"navy","angle":180,"dB":-8.4}
]
},
"encoding": {
"x": {"field": "X", "type": "quantitative", "scale": {"domain": [0, 146.23], "nice": false, "zero": false}, "axis": null},
"y": {"field": "Y", "type": "quantitative", "scale": {"domain": [0, 84.5], "nice": false, "zero": false}, "axis": null}
},
"layer": [
{"data": {"name": "centers"},
 "transform": [{"calculate": "datum.plane === 'H' ? 39.503 : 110.262", "as": "X"}, {"calculate": "datum.plane === 'H' ? 35.945 : 35.419", "as": "Y"}],
 "mark": {"type": "point", "shape": "circle", "size": 583696, "filled": false, "color": "#c4c4c4", "strokeWidth": 1, "opacity": 1}},
{"data": {"name": "centers"},
 "transform": [{"calculate": "datum.plane === 'H' ? 39.503 : 110.262", "as": "X"}, {"calculate": "datum.plane === 'H' ? 35.945 : 35.419", "as": "Y"}],
 "mark": {"type": "point", "shape": "circle", "size": 259420, "filled": false, "color": "#c4c4c4", "strokeWidth": 1, "opacity": 1}},
{"data": {"name": "centers"},
 "transform": [{"calculate": "datum.plane === 'H' ? 39.503 : 110.262", "as": "X"}, {"calculate": "datum.plane === 'H' ? 35.945 : 35.419", "as": "Y"}],
 "mark": {"type": "point", "shape": "circle", "size": 64855, "filled": false, "color": "#c4c4c4", "strokeWidth": 1, "opacity": 1}},
{"data": {"name": "spokes"},
 "transform": [
  {"calculate": "datum.plane === 'H' ? 39.503 : 110.262", "as": "cx"},
  {"calculate": "datum.plane === 'H' ? 35.945 : 35.419", "as": "cy"},
  {"calculate": "datum.cx + 30 * sin(datum.angle * PI / 180)", "as": "X"},
  {"calculate": "datum.cy + 30 * cos(datum.angle * PI / 180)", "as": "Y"},
  {"calculate": "datum.cx - 30 * sin(datum.angle * PI / 180)", "as": "X2"},
  {"calculate": "datum.cy - 30 * cos(datum.angle * PI / 180)", "as": "Y2"}],
 "mark": {"type": "rule", "color": "#c8c8c8", "strokeWidth": 1},
 "encoding": {"x2": {"field": "X2"}, "y2": {"field": "Y2"}}},
{"data": {"name": "centers"},
 "transform": [{"calculate": "datum.plane === 'H' ? 39.503 : 110.262", "as": "X"}, {"calculate": "datum.plane === 'H' ? 35.945 : 35.419", "as": "Y"}],
 "mark": {"type": "point", "shape": "circle", "size": 472794, "filled": false, "color": "#1e1e8c", "strokeWidth": 1.3, "strokeDash": [11, 5, 2, 5], "opacity": 1}},
{"data": {"name": "pattern"},
 "transform": [
  {"calculate": "(datum.plane === 'H' ? 39.503 : 110.262) + max(0, datum.dB + 30) * sin(datum.angle * PI / 180)", "as": "X"},
  {"calculate": "(datum.plane === 'H' ? 35.945 : 35.419) + max(0, datum.dB + 30) * cos(datum.angle * PI / 180)", "as": "Y"}],
 "mark": {"type": "line", "interpolate": "catmull-rom"},
 "encoding": {
  "detail": {"field": "plane"},
  "color": {"field": "trace", "type": "nominal", "legend": null,
   "scale": {"domain": ["blue", "purple", "green", "red", "black", "orange", "magenta", "navy"],
             "range": ["#1f1fb0", "#7b2fd6", "#3fcf3f", "#d02424", "#101010", "#e3962f", "#a024b8", "#10107a"]}},
  "strokeWidth": {"field": "trace", "type": "nominal", "legend": null,
   "scale": {"domain": ["blue", "purple", "green", "red", "black", "orange", "magenta", "navy"],
             "range": [1.7, 1.7, 1.7, 1.7, 1.7, 1.7, 1.7, 2.5]}},
  "order": {"value": null}}},
{"data": {"name": "ticks"},
 "transform": [
  {"calculate": "(datum.plane === 'H' ? 39.503 : 110.262) + 31.2 * sin(datum.angle * PI / 180)", "as": "X"},
  {"calculate": "(datum.plane === 'H' ? 35.945 : 35.419) + 31.2 * cos(datum.angle * PI / 180)", "as": "Y"}],
 "mark": {"type": "text", "align": "center", "baseline": "middle", "font": "Liberation Sans Narrow, Liberation Sans, Arial", "fontSize": 14, "color": "#222222"},
 "encoding": {"text": {"field": "label"}}},
{"data": {"name": "levels"},
 "transform": [
  {"filter": "datum.level > -30"},
  {"calculate": "datum.plane === 'H' ? 39.503 : 110.262", "as": "X"},
  {"calculate": "(datum.plane === 'H' ? 35.945 : 35.419) + datum.level + 30", "as": "Y"}],
 "mark": {"type": "text", "align": "left", "baseline": "alphabetic", "dx": 5, "dy": 0, "font": "Liberation Sans Narrow, Liberation Sans, Arial", "fontSize": 15, "color": "#222222"},
 "encoding": {"text": {"field": "label"}}},
{"data": {"name": "levels"},
 "transform": [
  {"filter": "datum.level === -30"},
  {"calculate": "datum.plane === 'H' ? 39.503 : 110.262", "as": "X"},
  {"calculate": "datum.plane === 'H' ? 35.945 : 35.419", "as": "Y"}],
 "mark": {"type": "text", "align": "left", "baseline": "top", "dx": 7, "dy": 2, "font": "Liberation Sans Narrow, Liberation Sans, Arial", "fontSize": 15, "color": "#222222"},
 "encoding": {"text": {"field": "label"}}},
{"data": {"values": [{"label": "> 2.45 GHZ"}]},
 "transform": [{"calculate": "6.52", "as": "X"}, {"calculate": "75.16", "as": "Y"}],
 "mark": {"type": "text", "align": "left", "baseline": "alphabetic", "font": "Lato", "fontWeight": "bold", "fontSize": 86, "color": "#2575BA"},
 "encoding": {"text": {"field": "label"}}},
{"data": {"values": [{"label": "divider"}]},
 "transform": [{"calculate": "5.42", "as": "X"}, {"calculate": "146.0", "as": "X2"}, {"calculate": "73.43", "as": "Y"}],
 "mark": {"type": "rule", "color": "#7a7a7a", "strokeWidth": 6},
 "encoding": {"x2": {"field": "X2"}}},
{"data": {"values": [{"label": "footer"}]},
 "transform": [{"calculate": "0", "as": "X"}, {"calculate": "78.5", "as": "X2"}, {"calculate": "0.02", "as": "Y"}, {"calculate": "0.2", "as": "Y2"}],
 "mark": {"type": "rect", "color": {"gradient": "linear", "stops": [{"offset": 0, "color": "#2E75B6"}, {"offset": 1, "color": "#ffffff"}]}},
 "encoding": {"x2": {"field": "X2"}, "y2": {"field": "Y2"}}},
{"data": {"values": [{"label": "H-Plane", "plane": "H"}, {"label": "V-Plane", "plane": "V"}]},
 "transform": [{"calculate": "datum.plane === 'H' ? 5.65 : 77.5", "as": "X"}, {"calculate": "2.59", "as": "Y"}],
 "mark": {"type": "text", "align": "left", "baseline": "alphabetic", "font": "Lato", "fontSize": 63, "color": "#000000"},
 "encoding": {"text": {"field": "label"}}}
]
}
